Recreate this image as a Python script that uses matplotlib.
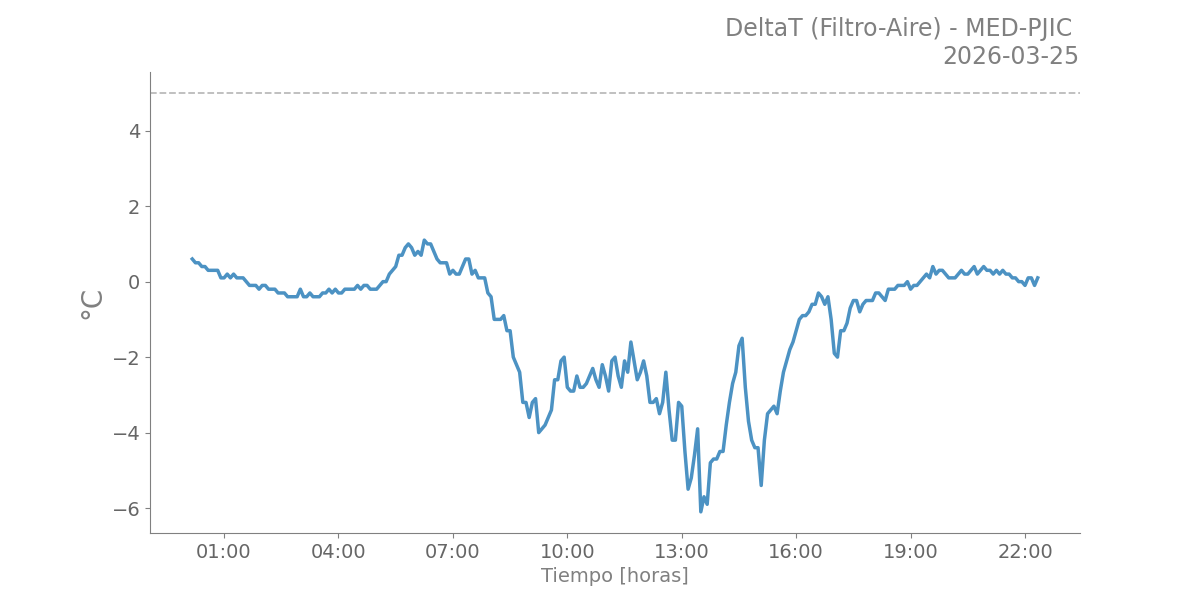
#!/usr/bin/env python

import numpy as np
import pandas as pd
import matplotlib
matplotlib.use('Agg')
import matplotlib.pyplot as plt
import matplotlib.dates as mdates

TITLE = 'DeltaT (Filtro-Aire) - MED-PJIC \n2026-03-25'
LIMIT = 5.0  # umbral superior

start = '2026-03-25 00:10'
# valores leidos cada 5 minutos desde 00:10
delta_t = [
    0.6, 0.5, 0.5, 0.4, 0.4, 0.3, 0.3, 0.3, 0.3, 0.1,       # 00:10 - 00:55
    0.1, 0.2, 0.1, 0.2, 0.1, 0.1, 0.1, 0.0, -0.1, -0.1, -0.1, -0.2,   # 01:00 - 01:55
    -0.1, -0.1, -0.2, -0.2, -0.2, -0.3, -0.3, -0.3, -0.4, -0.4, -0.4, -0.4,  # 02
    -0.2, -0.4, -0.4, -0.3, -0.4, -0.4, -0.4, -0.3, -0.3, -0.2, -0.3, -0.2,  # 03
    -0.3, -0.3, -0.2, -0.2, -0.2, -0.2, -0.1, -0.2, -0.1, -0.1, -0.2, -0.2,  # 04
    -0.2, -0.1, 0.0, 0.0, 0.2, 0.3, 0.4, 0.7, 0.7, 0.9, 1.0, 0.9,           # 05
    0.7, 0.8, 0.7, 1.1, 1.0, 1.0, 0.8, 0.6, 0.5, 0.5, 0.5, 0.2,             # 06
    0.3, 0.2, 0.2, 0.4, 0.6, 0.6, 0.2, 0.3, 0.1, 0.1, 0.1, -0.3,            # 07
    -0.4, -1.0, -1.0, -1.0, -0.9, -1.3, -1.3, -2.0, -2.2, -2.4, -3.2, -3.2,  # 08
    -3.6, -3.2, -3.1, -4.0, -3.9, -3.8, -3.6, -3.4, -2.6, -2.6, -2.1, -2.0,  # 09
    -2.8, -2.9, -2.9, -2.5, -2.8, -2.8, -2.7, -2.5, -2.3, -2.6, -2.8, -2.2,  # 10
    -2.5, -2.9, -2.1, -2.0, -2.5, -2.8, -2.1, -2.4, -1.6, -2.1, -2.6, -2.4,  # 11
    -2.1, -2.5, -3.2, -3.2, -3.1, -3.5, -3.2, -2.4, -3.4, -4.2, -4.2, -3.2,  # 12
    -3.3, -4.5, -5.5, -5.2, -4.6, -3.9, -6.1, -5.7, -5.9, -4.8, -4.7, -4.7,  # 13
    -4.5, -4.5, -3.8, -3.2, -2.7, -2.4, -1.7, -1.5, -2.8, -3.7, -4.2, -4.4,  # 14
    -4.4, -5.4, -4.2, -3.5, -3.4, -3.3, -3.5, -2.9, -2.4, -2.1, -1.8, -1.6,  # 15
    -1.3, -1.0, -0.9, -0.9, -0.8, -0.6, -0.6, -0.3, -0.4, -0.6, -0.4, -1.0,  # 16
    -1.9, -2.0, -1.3, -1.3, -1.1, -0.7, -0.5, -0.5, -0.8, -0.6, -0.5, -0.5,  # 17
    -0.5, -0.3, -0.3, -0.4, -0.5, -0.2, -0.2, -0.2, -0.1, -0.1, -0.1, 0.0,   # 18
    -0.2, -0.1, -0.1, 0.0, 0.1, 0.2, 0.1, 0.4, 0.2, 0.3, 0.3, 0.2,          # 19
    0.1, 0.1, 0.1, 0.2, 0.3, 0.2, 0.2, 0.3, 0.4, 0.2, 0.3, 0.4,             # 20
    0.3, 0.3, 0.2, 0.3, 0.2, 0.3, 0.2, 0.2, 0.1, 0.1, 0.0,                  # 21
    0.0, -0.1, 0.1, 0.1, -0.1, 0.1,                                         # 21:55 - 22:20
]

time = pd.date_range(start, periods=len(delta_t), freq='5min')

grey = '#808080'

fig, ax = plt.subplots(figsize=(12, 6), dpi=100)
fig.subplots_adjust(left=0.125, right=0.9, top=0.88, bottom=0.112)

ax.plot(time, delta_t, color='tab:blue', alpha=0.8, linewidth=2.5)
ax.axhline(LIMIT, color='#bbbbbb', linestyle='--', linewidth=1.3)

ax.set_title(TITLE, loc='right', fontsize=17, color=grey)
ax.set_xlabel('Tiempo [horas]', fontsize=14, color=grey)
ax.set_ylabel('°C', fontsize=20, color=grey)

ax.xaxis.set_major_locator(mdates.HourLocator(byhour=range(1, 24, 3)))
ax.xaxis.set_major_formatter(mdates.DateFormatter('%H:%M'))

for side in ['top', 'right']:
    ax.spines[side].set_visible(False)
for side in ['left', 'bottom']:
    ax.spines[side].set_color(grey)
ax.tick_params(colors=grey, labelsize=14, labelcolor='#666666')

fig.savefig('out.png')
